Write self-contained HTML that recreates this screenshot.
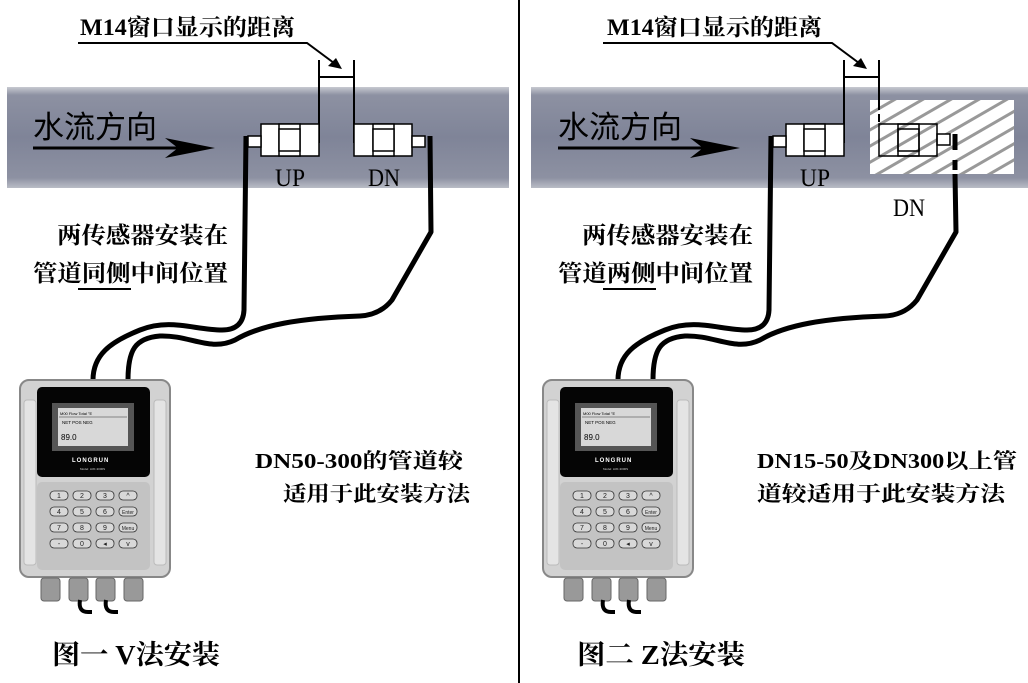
<!DOCTYPE html>
<html><head><meta charset="utf-8"><style>
html,body{margin:0;padding:0;background:#fff;}
svg{display:block}
.t{font-family:"Liberation Serif","Noto Serif CJK SC",serif;font-weight:bold;fill:#000}
.s{font-family:"Liberation Sans","Noto Sans CJK SC",sans-serif;fill:#000}
.lat{font-family:"Liberation Serif",serif;fill:#000}
</style></head><body>
<svg width="1028" height="683" viewBox="0 0 1028 683" xmlns="http://www.w3.org/2000/svg">
<defs>
<linearGradient id="pg" x1="0" y1="0" x2="0" y2="1">
<stop offset="0" stop-color="#c7c9d1"/><stop offset="0.08" stop-color="#8d91a2"/>
<stop offset="0.5" stop-color="#7f8498"/><stop offset="0.9" stop-color="#8d91a2"/><stop offset="1" stop-color="#b9bcc6"/>
</linearGradient>
<pattern id="hatch" width="14" height="14" patternUnits="userSpaceOnUse" patternTransform="rotate(-30)">
<rect width="14" height="14" fill="#fff"/><rect width="14" height="3" fill="#999"/>
</pattern>
<g id="dev">
<rect x="20" y="380" width="150" height="197" rx="9" fill="#d2d2d2" stroke="#888" stroke-width="2"/>
<rect x="24" y="400" width="12" height="165" rx="3" fill="#e4e4e4" stroke="#bbb"/>
<rect x="154" y="400" width="12" height="165" rx="3" fill="#e4e4e4" stroke="#bbb"/>
<rect x="37" y="387" width="113" height="90" rx="5" fill="#050505"/>
<rect x="52" y="403" width="82" height="48" fill="#555"/>
<rect x="58" y="408" width="70" height="38" fill="#d8d8d8"/>
<text x="60" y="415" font-size="4" class="s">M00   Flow Total   °E</text>
<line x1="59" y1="417" x2="127" y2="417" stroke="#333" stroke-width="0.6"/>
<text x="62" y="424" font-size="4.5" class="s">NET    POS    NEG</text>
<text x="61" y="440" font-size="8" class="s">89.0</text>
<text x="72" y="462" font-size="6" fill="#fff" font-family="Liberation Sans,sans-serif" font-weight="bold" letter-spacing="1">LONGRUN</text>
<text x="80" y="470" font-size="3" fill="#ccc" font-family="Liberation Sans,sans-serif">Model: LRF-3000S</text>
<rect x="37" y="482" width="113" height="88" rx="5" fill="#c3c3c3"/>
<g fill="#d8d8d8" stroke="#333" stroke-width="0.8">
<rect x="50" y="491" width="18" height="9" rx="4"/><rect x="73" y="491" width="18" height="9" rx="4"/><rect x="96" y="491" width="18" height="9" rx="4"/><rect x="119" y="491" width="18" height="9" rx="4"/>
<rect x="50" y="507" width="18" height="9" rx="4"/><rect x="73" y="507" width="18" height="9" rx="4"/><rect x="96" y="507" width="18" height="9" rx="4"/><rect x="119" y="507" width="18" height="9" rx="4"/>
<rect x="50" y="523" width="18" height="9" rx="4"/><rect x="73" y="523" width="18" height="9" rx="4"/><rect x="96" y="523" width="18" height="9" rx="4"/><rect x="119" y="523" width="18" height="9" rx="4"/>
<rect x="50" y="539" width="18" height="9" rx="4"/><rect x="73" y="539" width="18" height="9" rx="4"/><rect x="96" y="539" width="18" height="9" rx="4"/><rect x="119" y="539" width="18" height="9" rx="4"/>
</g>
<g font-family="Liberation Sans,sans-serif" font-size="7" fill="#222" text-anchor="middle">
<text x="59" y="498">1</text><text x="82" y="498">2</text><text x="105" y="498">3</text><text x="128" y="498">^</text>
<text x="59" y="514">4</text><text x="82" y="514">5</text><text x="105" y="514">6</text><text x="128" y="514" font-size="5">Enter</text>
<text x="59" y="530">7</text><text x="82" y="530">8</text><text x="105" y="530">9</text><text x="128" y="530" font-size="5">Menu</text>
<text x="59" y="546">-</text><text x="82" y="546">0</text><text x="105" y="546">◂</text><text x="128" y="546">v</text>
</g>
<g fill="#999" stroke="#666" stroke-width="1">
<rect x="41" y="578" width="19" height="23" rx="3"/><rect x="69" y="578" width="19" height="23" rx="3"/><rect x="96" y="578" width="19" height="23" rx="3"/><rect x="124" y="578" width="19" height="23" rx="3"/>
</g>
<path d="M80 600 Q78 612 88 612 L92 612" fill="none" stroke="#000" stroke-width="4"/>
<path d="M106 600 Q104 612 114 612 L118 612" fill="none" stroke="#000" stroke-width="4"/>
</g>
</defs>

<rect x="518" y="0" width="2" height="683" fill="#000"/>

<!-- LEFT PANEL -->
<rect x="7" y="87" width="502" height="101" fill="url(#pg)"/>
<text x="80" y="35" font-size="23" class="t" textLength="215" lengthAdjust="spacingAndGlyphs">M14窗口显示的距离</text>
<polyline points="78,43 307,43 338,66" fill="none" stroke="#000" stroke-width="2"/>
<polygon points="342,69 328,66 336,58" fill="#000"/>
<g stroke="#000" stroke-width="2">
<line x1="319" y1="60" x2="319" y2="143"/><line x1="354" y1="60" x2="354" y2="143"/><line x1="319" y1="77" x2="354" y2="77"/>
</g>
<text x="33" y="138" font-size="31" class="s">水流方向</text>
<line x1="33" y1="148" x2="180" y2="148" stroke="#000" stroke-width="3"/>
<polygon points="215,148 165,138 178,148 165,158" fill="#000"/>
<g fill="#fff" stroke="#000" stroke-width="1.5">
<rect x="261" y="124" width="58" height="32"/><rect x="279" y="124" width="21" height="32"/><rect x="279" y="129" width="21" height="22"/>
<rect x="354" y="124" width="58" height="32"/><rect x="373" y="124" width="21" height="32"/><rect x="373" y="129" width="21" height="22"/>
<rect x="248" y="136" width="13" height="11"/><rect x="412" y="136" width="13" height="11"/>
</g>
<text x="275" y="186" font-size="25" class="lat" textLength="30" lengthAdjust="spacingAndGlyphs">UP</text>
<text x="368" y="186" font-size="25" class="lat" textLength="32" lengthAdjust="spacingAndGlyphs">DN</text>
<g fill="none" stroke="#000" stroke-width="5" stroke-linejoin="round">
<path d="M246 136 L244 310 Q243 330 222 330 C195 330 170 318 140 330 C110 342 93 355 93 380"/>
<path d="M430 136 L431 232 L392 300 Q380 315 360 316 C300 318 260 325 235 340 C210 352 190 335 160 336 C135 338 128 350 128 380"/>
</g>
<text x="57" y="243" font-size="23" class="t" textLength="171" lengthAdjust="spacingAndGlyphs">两传感器安装在</text>
<text x="33" y="281" font-size="23" class="t" textLength="195" lengthAdjust="spacingAndGlyphs">管道同侧中间位置</text>
<line x1="78" y1="289" x2="131" y2="289" stroke="#000" stroke-width="2"/>
<use href="#dev"/>
<text x="255" y="468" font-size="21" class="t" textLength="208" lengthAdjust="spacingAndGlyphs">DN50-300的管道较</text>
<text x="283" y="501" font-size="21" class="t" textLength="187" lengthAdjust="spacingAndGlyphs">适用于此安装方法</text>
<text x="52" y="664" font-size="27" class="t" textLength="168" lengthAdjust="spacingAndGlyphs">图一 V法安装</text>

<!-- RIGHT PANEL -->
<rect x="531" y="87" width="497" height="101" fill="url(#pg)"/>
<text x="607" y="35" font-size="23" class="t" textLength="215" lengthAdjust="spacingAndGlyphs">M14窗口显示的距离</text>
<polyline points="603,43 832,43 863,66" fill="none" stroke="#000" stroke-width="2"/>
<polygon points="867,69 853,66 861,58" fill="#000"/>
<g stroke="#000" stroke-width="2">
<line x1="844" y1="60" x2="844" y2="143"/><line x1="879" y1="60" x2="879" y2="100"/><line x1="844" y1="77" x2="879" y2="77"/>
</g>
<text x="558" y="138" font-size="31" class="s">水流方向</text>
<line x1="558" y1="148" x2="705" y2="148" stroke="#000" stroke-width="3"/>
<polygon points="740,148 690,138 703,148 690,158" fill="#000"/>
<rect x="870" y="100" width="144" height="74" fill="url(#hatch)"/>
<g stroke="#000" stroke-width="2"><line x1="879" y1="100" x2="879" y2="110"/><line x1="879" y1="114" x2="879" y2="122"/></g>
<g fill="#fff" stroke="#000" stroke-width="1.5">
<rect x="786" y="124" width="58" height="32"/><rect x="804" y="124" width="21" height="32"/><rect x="804" y="129" width="21" height="22"/>
<rect x="773" y="136" width="13" height="11"/><rect x="937" y="134" width="13" height="11"/>
</g>
<g fill="none" stroke="#000" stroke-width="1.5">
<rect x="879" y="124" width="58" height="32"/><rect x="898" y="124" width="21" height="32"/><rect x="898" y="129" width="21" height="22"/>
</g>
<text x="800" y="186" font-size="25" class="lat" textLength="30" lengthAdjust="spacingAndGlyphs">UP</text>
<text x="893" y="216" font-size="25" class="lat" textLength="32" lengthAdjust="spacingAndGlyphs">DN</text>
<g fill="none" stroke="#000" stroke-width="5" stroke-linejoin="round">
<path d="M771 136 L769 310 Q768 330 747 330 C720 330 695 318 665 330 C635 342 618 355 618 380"/>
<path d="M955 134 L955 150 M955 160 L955 170 M955 174 L956 232 L917 300 Q905 315 885 316 C825 318 785 325 760 340 C735 352 715 335 685 336 C660 338 653 350 653 380"/>
</g>
<text x="582" y="243" font-size="23" class="t" textLength="171" lengthAdjust="spacingAndGlyphs">两传感器安装在</text>
<text x="558" y="281" font-size="23" class="t" textLength="195" lengthAdjust="spacingAndGlyphs">管道两侧中间位置</text>
<line x1="603" y1="289" x2="656" y2="289" stroke="#000" stroke-width="2"/>
<use href="#dev" transform="translate(523,0)"/>
<text x="757" y="468" font-size="21" class="t" textLength="260" lengthAdjust="spacingAndGlyphs">DN15-50及DN300以上管</text>
<text x="757" y="501" font-size="21" class="t" textLength="248" lengthAdjust="spacingAndGlyphs">道较适用于此安装方法</text>
<text x="577" y="664" font-size="27" class="t" textLength="168" lengthAdjust="spacingAndGlyphs">图二 Z法安装</text>
</svg>
</body></html>
